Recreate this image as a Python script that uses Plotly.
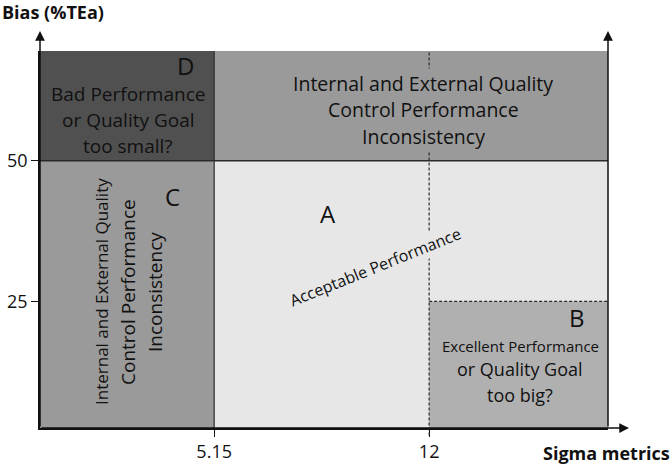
import plotly.graph_objects as go

# ---- data ----
x_ticks = [5.15, 12]
x_tick_labels = ["5.15", "12"]
y_ticks = [25, 50]
y_tick_labels = ["25", "50"]
x_range = [-0.4, 17.7]
y_range = [2.5, 69.5]

sigma_low = 5.15
sigma_high = 12
bias_low = 25
bias_high = 50

region_names = ["D", "Top", "C", "A", "B"]
region_x0 = [x_range[0], sigma_low, x_range[0], sigma_low, sigma_high]
region_x1 = [sigma_low, x_range[1], sigma_low, x_range[1], x_range[1]]
region_y0 = [bias_high, bias_high, y_range[0], y_range[0], y_range[0]]
region_y1 = [y_range[1], y_range[1], bias_high, bias_high, bias_low]
region_colors = ["#505050", "#9a9a9a", "#9a9a9a", "#e7e7e7", "#b0b0b0"]

FONT = "Open Sans"
L, R, T, B = 40, 64, 51, 36
W, H = 672, 464
PW, PH = W - L - R, H - T - B


def P(px, py):
    return (px - L) / PW, (H - B - py) / PH


fig = go.Figure()
fig.add_trace(go.Scatter(x=[x_range[0], x_range[1]], y=[y_range[0], y_range[1]],
                         mode="markers", marker=dict(opacity=0), hoverinfo="skip",
                         showlegend=False))

shapes = []
for x0, x1, y0, y1, c in zip(region_x0, region_x1, region_y0, region_y1, region_colors):
    shapes.append(dict(type="rect", xref="x", yref="y", x0=x0, x1=x1, y0=y0, y1=y1,
                       fillcolor=c, line=dict(width=0), layer="below"))
dark = "#2a2a2a"
shapes.append(dict(type="line", xref="x", yref="y", x0=x_range[0], x1=x_range[1],
                   y0=bias_high, y1=bias_high, line=dict(color=dark, width=1.5)))
shapes.append(dict(type="line", xref="x", yref="y", x0=sigma_low, x1=sigma_low,
                   y0=y_range[0], y1=y_range[1], line=dict(color=dark, width=1.2)))
shapes.append(dict(type="line", xref="x", yref="paper", x0=sigma_high, x1=sigma_high,
                   y0=-0.02, y1=1, line=dict(color=dark, width=1.2, dash="3px,2px")))
shapes.append(dict(type="line", xref="x", yref="y", x0=sigma_high, x1=x_range[1],
                   y0=bias_low, y1=bias_low, line=dict(color=dark, width=1.2, dash="3px,2px")))

annotations = []
annotations.append(dict(xref="paper", yref="paper", x=0, y=P(L, 31)[1], ax=0, ay=H - B - 31,
                        text="", showarrow=True, arrowhead=2, arrowsize=1.3, arrowwidth=1.5,
                        arrowcolor="#111"))
annotations.append(dict(xref="paper", yref="paper", x=1, y=P(L, 31)[1], ax=0, ay=H - B - 31,
                        text="", showarrow=True, arrowhead=2, arrowsize=1.3, arrowwidth=1.5,
                        arrowcolor="#111"))
annotations.append(dict(xref="paper", yref="paper", x=P(629, 0)[0], y=0, ax=-(629 - L), ay=0,
                        text="", showarrow=True, arrowhead=2, arrowsize=1.3, arrowwidth=1.5,
                        arrowcolor="#111"))


def txt(s, px, py, size, angle=0, color="#111", bold=False, family=FONT, xanchor="center",
        bg=None):
    x, y = P(px, py)
    if bold:
        s = "<b>" + s + "</b>"
    a = dict(xref="paper", yref="paper", x=x, y=y, text=s, showarrow=False,
             xanchor=xanchor, yanchor="middle", textangle=angle,
             font=dict(family=family, size=size, color=color))
    if bg:
        a["bgcolor"] = bg
    annotations.append(a)


txt("Bias (%TEa)", 0, 12, 18, bold=True, xanchor="left")
txt("Sigma metrics", 672, 453, 18, bold=True, xanchor="right")

txt("D", 185, 65, 24)
txt("Bad Performance", 128, 94, 19)
txt("or Quality Goal", 128, 120, 19)
txt("too small?", 128, 146, 19)

band = region_colors[1]
txt("Internal and External Quality", 423, 83, 19.5, bg=band)
txt("Control Performance", 423, 109, 19.5, bg=band)
txt("Inconsistency", 423, 136, 19.5, bg=band)

txt("C", 172, 196, 24)
txt("Internal and External Quality", 101, 292, 17, angle=-90)
txt("Control Performance", 128, 292, 19, angle=-90)
txt("Inconsistency", 155, 292, 19, angle=-90)

txt("A", 328, 213, 24)
txt("Acceptable Performance", 375, 267, 16, angle=-22, bg=region_colors[3])

txt("B", 577, 317, 24)
txt("Excellent Performance", 520, 346, 15)
txt("or Quality Goal", 520, 369, 18)
txt("too big?", 520, 395, 18)

fig.update_layout(
    width=W, height=H,
    margin=dict(l=L, r=R, t=T, b=B, autoexpand=False),
    paper_bgcolor="white", plot_bgcolor="white",
    shapes=shapes, annotations=annotations,
    showlegend=False,
    xaxis=dict(range=x_range, tickvals=x_ticks, ticktext=x_tick_labels, ticks="outside",
               ticklen=7, tickcolor="#111", showgrid=False, zeroline=False, showline=True,
               automargin=False,
               linecolor="#111", linewidth=1.5, tickfont=dict(family=FONT, size=18, color="#111"),
               fixedrange=True),
    yaxis=dict(range=y_range, tickvals=y_ticks, ticktext=y_tick_labels, ticks="outside",
               ticklen=7, tickcolor="#111", showgrid=False, zeroline=False, showline=True,
               automargin=False,
               linecolor="#111", linewidth=1.5, tickfont=dict(family=FONT, size=18, color="#111"),
               fixedrange=True),
)

fig.write_html("out.html", post_script="document.body.style.margin='0';document.body.style.padding='0';",
               config={"displayModeBar": False})
